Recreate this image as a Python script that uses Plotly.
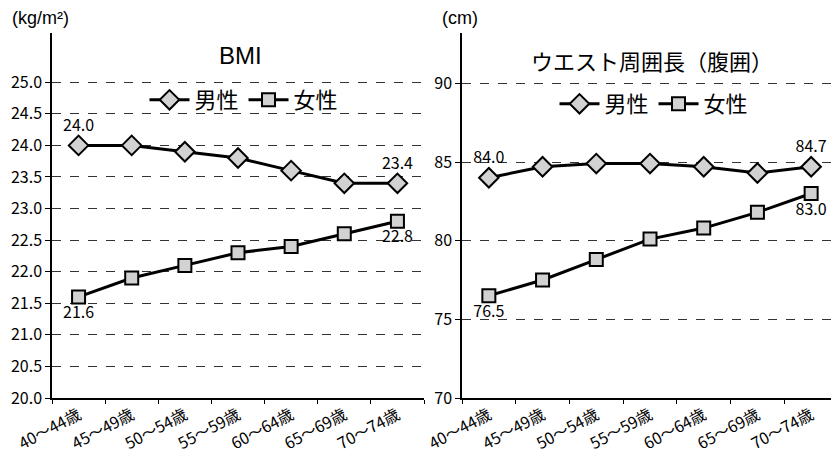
import plotly.graph_objects as go

ages = ["40～44歳", "45～49歳", "50～54歳", "55～59歳", "60～64歳", "65～69歳", "70～74歳"]
bmi_male = [24.0, 24.0, 23.9, 23.8, 23.6, 23.4, 23.4]
bmi_female = [21.6, 21.9, 22.1, 22.3, 22.4, 22.6, 22.8]
waist_male = [84.0, 84.7, 84.9, 84.9, 84.7, 84.3, 84.7]
waist_female = [76.5, 77.5, 78.8, 80.1, 80.8, 81.8, 83.0]
bmi_ticks = [20, 20.5, 21, 21.5, 22, 22.5, 23, 23.5, 24, 24.5, 25]
waist_ticks = [70, 75, 80, 85, 90]

FONT = "Liberation Sans Narrow, Noto Sans CJK JP, sans-serif"
JFONT = "Noto Sans CJK JP, sans-serif"

# the page body has an 8px margin; the figure fills the rest of the window
W, H, OFF = 831, 448, 8


def px(x):
    return (x - OFF) / W


def py(y):
    return 1 - (y - OFF) / H


def end_labels(vals, fmt="{:.1f}"):
    return [fmt.format(v) if i in (0, len(vals) - 1) else "" for i, v in enumerate(vals)]


fig = go.Figure()

male_marker = dict(symbol="diamond", size=15, color="#d2d2d2", line=dict(color="black", width=2))
female_marker = dict(symbol="square", size=13, color="#d2d2d2", line=dict(color="black", width=2))
lbl_font = dict(size=16, color="black", family=FONT)

fig.add_trace(go.Scatter(x=ages, y=bmi_male, name="男性", mode="lines+markers+text",
                         line=dict(color="black", width=3), marker=male_marker,
                         text=end_labels(bmi_male), textposition="top center", textfont=lbl_font,
                         xaxis="x", yaxis="y", legend="legend"))
fig.add_trace(go.Scatter(x=ages, y=bmi_female, name="女性", mode="lines+markers+text",
                         line=dict(color="black", width=3), marker=female_marker,
                         text=end_labels(bmi_female), textposition="bottom center", textfont=lbl_font,
                         xaxis="x", yaxis="y", legend="legend"))
fig.add_trace(go.Scatter(x=ages, y=waist_male, name="男性", mode="lines+markers+text",
                         line=dict(color="black", width=3), marker=male_marker,
                         text=end_labels(waist_male), textposition="top center", textfont=lbl_font,
                         xaxis="x2", yaxis="y2", legend="legend2"))
fig.add_trace(go.Scatter(x=ages, y=waist_female, name="女性", mode="lines+markers+text",
                         line=dict(color="black", width=3), marker=female_marker,
                         text=end_labels(waist_female), textposition="bottom center", textfont=lbl_font,
                         xaxis="x2", yaxis="y2", legend="legend2"))

xcommon = dict(type="category", range=[-0.5, 6.5], showline=True, linecolor="black", linewidth=1.5,
               ticks="outside", tickson="boundaries", ticklen=4, tickcolor="black",
               tickangle=-28, tickfont=dict(size=16, color="black", family=FONT),
               showgrid=False, zeroline=False, automargin=False, fixedrange=True)
ycommon = dict(showline=True, linecolor="black", linewidth=1.5, ticks="outside", ticklen=5,
               tickcolor="black", tickfont=dict(size=16, color="black", family=FONT),
               showgrid=True, gridcolor="#333333", griddash="dash", gridwidth=1,
               zeroline=False, automargin=False, fixedrange=True)

ydom = [py(398), py(33)]
fig.update_layout(
    width=W, height=H,
    margin=dict(l=0, r=0, t=0, b=0),
    paper_bgcolor="white", plot_bgcolor="white",
    font=dict(family=FONT, color="black"),
    xaxis=dict(xcommon, domain=[px(52), px(424)], anchor="y"),
    yaxis=dict(ycommon, domain=ydom, range=[20, 25.78], tickvals=bmi_ticks, tickformat=".1f", anchor="x"),
    xaxis2=dict(xcommon, domain=[px(462), px(838)], anchor="y2"),
    yaxis2=dict(ycommon, domain=ydom, range=[70, 93.2], tickvals=waist_ticks, anchor="x2"),
    showlegend=True,
    legend=dict(orientation="h", x=px(244), y=py(100), xanchor="center", yanchor="middle",
                font=dict(size=22, family=JFONT), bgcolor="rgba(0,0,0,0)", itemwidth=40),
    legend2=dict(orientation="h", x=px(654), y=py(104), xanchor="center", yanchor="middle",
                 font=dict(size=22, family=JFONT), bgcolor="rgba(0,0,0,0)", itemwidth=40),
    annotations=[
        dict(text="BMI", x=px(240), y=py(56), xref="paper", yref="paper", showarrow=False,
             font=dict(size=24, family="Liberation Sans, sans-serif"), xanchor="center", yanchor="middle"),
        dict(text="ウエスト周囲長（腹囲）", x=px(652), y=py(60), xref="paper", yref="paper", showarrow=False,
             font=dict(size=22, family=JFONT), xanchor="center", yanchor="middle"),
        dict(text="(kg/m²)", x=px(10), y=py(18), xref="paper", yref="paper", showarrow=False,
             font=dict(size=18, family="Liberation Sans, sans-serif"), xanchor="left", yanchor="middle"),
        dict(text="(cm)", x=px(440), y=py(18), xref="paper", yref="paper", showarrow=False,
             font=dict(size=18, family="Liberation Sans, sans-serif"), xanchor="left", yanchor="middle"),
    ],
)

fig.write_html("out.html")
